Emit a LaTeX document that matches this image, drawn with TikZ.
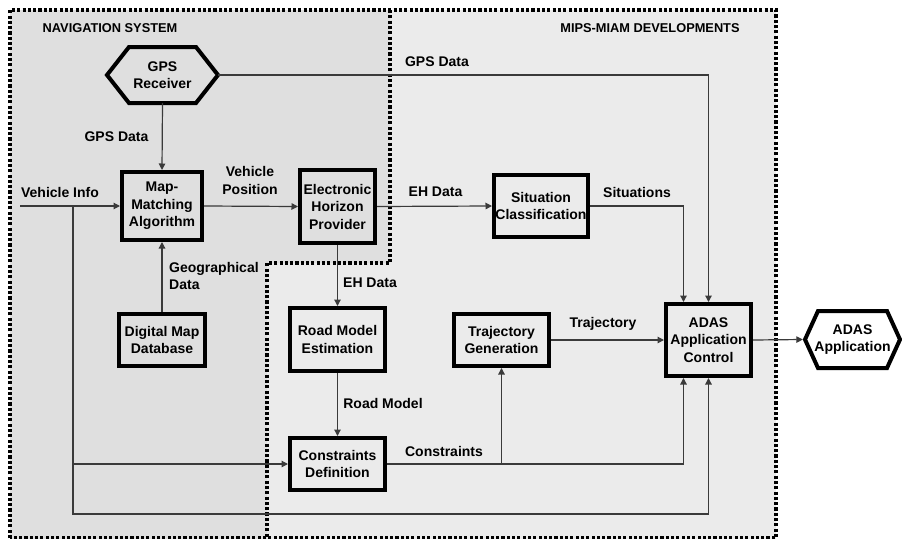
\documentclass[tikz,border=0pt]{standalone}
\usepackage{fontspec}
\setmainfont{Liberation Sans}
\usetikzlibrary{arrows.meta}
\definecolor{navgray}{HTML}{DFDFDF}
\definecolor{mipsgray}{HTML}{EBEBEB}
\definecolor{linegray}{HTML}{3A3A3A}
\tikzset{
  boxnode/.style={draw=black, line width=4pt, align=center, inner sep=0pt,
    font=\fontsize{14}{17.5}\selectfont\bfseries},
  hexnode/.style={draw=none, outer sep=0pt, inner sep=0pt, align=center,
    font=\fontsize{14}{17.5}\selectfont\bfseries},
  hexline/.style={draw=black, line width=4pt, line join=miter},
  lbl/.style={inner sep=0pt, align=center, font=\fontsize{14}{17.5}\selectfont\bfseries},
  hdr/.style={inner sep=0pt, font=\fontsize{12.8}{15}\selectfont\bfseries},
  conn/.style={draw=linegray, line width=1.2pt, -{Triangle[length=6.5pt,width=6.5pt]}},
  dotborder/.style={draw=black, line width=3.3pt, dash pattern=on 3.1pt off 2.2pt}
}
\begin{document}
\begin{tikzpicture}[x=1pt,y=-1pt]
\useasboundingbox (0,0) rectangle (902,538);
\fill[white] (0,0) rectangle (902,538);
% regions
\fill[mipsgray] (10,10) rectangle (776,540);
\fill[navgray] (10,10) -- (390,10) -- (390,263) -- (267,263) -- (267,540) -- (10,540) -- cycle;
\draw[dotborder] (10,538) -- (10,10) -- (776,10) -- (776,538) -- cycle;
\draw[dotborder] (390,10) -- (390,263) -- (267,263) -- (267,538);
\node[hdr] (navh) at (110,28) {NAVIGATION SYSTEM};
\node[hdr] (miph) at (650,28) {MIPS-MIAM DEVELOPMENTS};
% nodes
\node[hexnode, minimum width=111pt, minimum height=56pt] (gps) at (162.5,75) {GPS\\Receiver};
\draw[hexline] (gps.west) -- ([xshift=22pt]gps.north west) -- ([xshift=-22pt]gps.north east) -- (gps.east) -- ([xshift=-22pt]gps.south east) -- ([xshift=22pt]gps.south west) -- cycle;
\node[boxnode, minimum width=80pt, minimum height=68pt] (mm) at (162,206) {Map-\\Matching\\Algorithm};
\node[boxnode, minimum width=75pt, minimum height=73pt] (eh) at (337.5,206.5) {Electronic\\Horizon\\Provider};
\node[boxnode, minimum width=94pt, minimum height=62pt] (sit) at (541,206) {Situation\\Classification};
\node[boxnode, minimum width=86pt, minimum height=52pt] (dmd) at (162,340) {Digital Map\\Database};
\node[boxnode, minimum width=95pt, minimum height=63pt] (rme) at (337.5,339.5) {Road Model\\Estimation};
\node[boxnode, minimum width=95pt, minimum height=52pt] (cd) at (337.5,464) {Constraints\\Definition};
\node[boxnode, minimum width=95pt, minimum height=52pt] (tg) at (501.5,340) {Trajectory\\Generation};
\node[boxnode, minimum width=85pt, minimum height=72pt] (adas) at (708.5,340) {ADAS\\Application\\Control};
\node[hexnode, minimum width=95pt, minimum height=57pt] (app) at (852.5,339.5) {ADAS\\Application};
\draw[hexline] (app.west) -- ([xshift=13pt]app.north west) -- ([xshift=-13pt]app.north east) -- (app.east) -- ([xshift=-13pt]app.south east) -- ([xshift=13pt]app.south west) -- cycle;
% coordinates
\coordinate (vin) at (20,206);
\coordinate (vb1) at (73,206);
\coordinate (vb2) at (73,514);
% connectors
\draw[conn] (gps.south) -- (mm.north);
\draw[conn] (gps.east) -| (adas.north);
\draw[conn] (vin) -- (mm.west);
\draw[conn] (vb1) |- (cd.west);
\draw[conn] (vb1) -- (vb2) -| (adas.south);
\draw[conn] (mm.east) -- (eh.west);
\draw[conn] (eh.east) -- (sit.west);
\draw[conn] (sit.east) -| ([xshift=-25pt]adas.north);
\draw[conn] (dmd.north) -- (mm.south);
\draw[conn] (eh.south) -- (rme.north);
\draw[conn] (rme.south) -- (cd.north);
\draw[conn] (cd.east) -| ([xshift=-25pt]adas.south);
\draw[conn] (tg.south |- cd.east) -- (tg.south);
\draw[conn] (tg.east) -- (adas.west);
\draw[conn] (adas.east) -- ([xshift=-2.2pt]app.west);
% labels
\node[lbl] (l1) at (437,62) {GPS Data};
\node[lbl] (l2) at (116.5,137) {GPS Data};
\node[lbl] (l3) at (60,192) {Vehicle Info};
\node[lbl] (l4) at (250,180.5) {Vehicle\\Position};
\node[lbl] (l5) at (435.5,192) {EH Data};
\node[lbl] (l6) at (637,192) {Situations};
\node[lbl, anchor=west, align=left] (l7) at (169,276) {Geographical\\Data};
\node[lbl] (l8) at (370,283) {EH Data};
\node[lbl] (l9) at (383,403) {Road Model};
\node[lbl] (l10) at (444,451) {Constraints};
\node[lbl] (l11) at (603,324) {Trajectory};
\end{tikzpicture}
\end{document}
